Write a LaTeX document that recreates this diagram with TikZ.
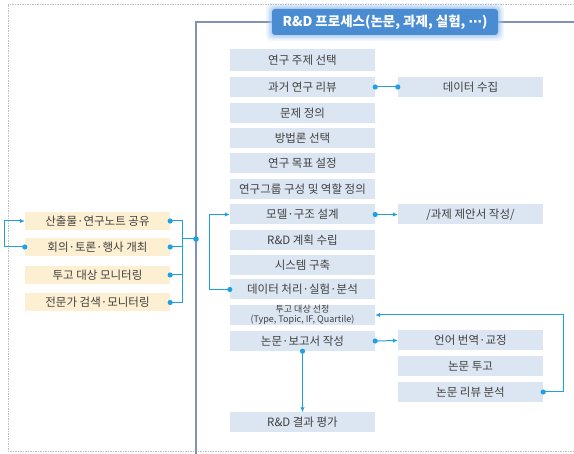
\documentclass[tikz,border=0pt]{standalone}
\usepackage{fontspec}
\setmainfont{Noto Sans CJK KR}
\newfontfamily\dvfont{DejaVu Sans}
\usetikzlibrary{arrows.meta}
\definecolor{boxblue}{HTML}{DCE6F2}
\definecolor{boxorange}{HTML}{FDEFD2}
\definecolor{txt}{HTML}{404040}
\definecolor{lnk}{HTML}{1EA0E1}
\definecolor{framec}{HTML}{8291B8}
\definecolor{titleblue}{HTML}{4A8CD2}
\definecolor{glowc}{HTML}{9CC3EE}
\begin{document}
\begin{tikzpicture}[x=1pt,y=-1pt,
  pbox/.style={fill=boxblue, minimum width=145pt, minimum height=20pt, inner sep=0pt, text=txt, font=\fontsize{11.5}{12}\selectfont, align=center},
  obox/.style={pbox, fill=boxorange, minimum height=18pt},
  conn/.style={draw=lnk, line width=1pt},
  arr/.style={conn, -{Latex[length=5pt,width=4.5pt]}},
  dotc/.style={fill=lnk},
  titlebox/.style={fill=titleblue, rounded corners=3pt, minimum width=226pt, minimum height=26pt, inner sep=0pt, text=white, font=\bfseries\fontsize{13.5}{15}\selectfont}]
\useasboundingbox (0,0) rectangle (574,454);
% outer dashed frame
\draw[black!25, dash pattern=on 1.5pt off 1pt, line width=0.6pt] (574,4) -- (8,4) -- (8,451) -- (574,451);
% blue frame
\draw[framec, line width=1.1pt] (196,454) -- (196,22) -- (574,22);
% title glow
\foreach \g/\o in {6/0.15,4.5/0.2,3/0.3,1.5/0.4}{
  \fill[glowc, opacity=\o, rounded corners=5pt] (272-\g,9-\g) rectangle (498+\g,35+\g);
}
\node[titlebox] (t) at (385,22) {R\&D 프로세스(논문, 과제, 실험, {\dvfont\bfseries ⋯})};
% main column
\node[pbox, minimum height=22pt] (p1) at (302.5,60) {연구 주제 선택};
\node[pbox] (p2) at (302.5,87) {과거 연구 리뷰};
\node[pbox] (p3) at (302.5,113) {문제 정의};
\node[pbox] (p4) at (302.5,138) {방법론 선택};
\node[pbox] (p5) at (302.5,163.5) {연구 목표 설정};
\node[pbox] (p6) at (302.5,189) {연구그룹 구성 및 역할 정의};
\node[pbox] (p7) at (302.5,214.5) {모델·구조 설계};
\node[pbox] (p8) at (302.5,240.5) {R\&D 계획 수립};
\node[pbox] (p9) at (302.5,265) {시스템 구축};
\node[pbox] (p10) at (302.5,289.5) {데이터 처리·실험·분석};
\node[pbox, font=\fontsize{9}{9.5}\selectfont] (p11) at (302.5,315) {투고 대상 선정\\(Type, Topic, IF, Quartile)};
\node[pbox] (p12) at (302.5,341) {논문·보고서 작성};
\node[pbox] (p13) at (302.5,422.5) {R\&D 결과 평가};
% right column
\node[pbox] (r1) at (470.5,87) {데이터 수집};
\node[pbox] (r2) at (470.5,214.5) {/과제 제안서 작성/};
\node[pbox] (r3) at (470.5,340.5) {언어 번역·교정};
\node[pbox] (r4) at (470.5,366) {논문 투고};
\node[pbox] (r5) at (470.5,392) {논문 리뷰 분석};
% left group
\node[obox] (l1) at (97.5,221) {산출물·연구노트 공유};
\node[obox] (l2) at (97.5,247) {회의·토론·행사 개최};
\node[obox] (l3) at (97.5,275) {투고 대상 모니터링};
\node[obox] (l4) at (97.5,302.5) {전문가 검색·모니터링};
\coordinate (fd) at (196,239);
% connectors
\draw[conn] (p2.east) -- (r1.west);
\fill[dotc] (p2.east) circle (2.6pt);
\fill[dotc] (r1.west) circle (2.6pt);
\draw[arr] (p7.east) -- (r2.west);
\fill[dotc] (p7.east) circle (2.6pt);
\draw[arr] (p12.east) -- (r3.west);
\fill[dotc] (p12.east) circle (2.6pt);
\draw[arr] (p12.south) -- (p13.north);
\fill[dotc] (p12.south) circle (2.6pt);
\draw[arr] (r5.east) -- ++(20,0) |- (p11.east);
\fill[dotc] (r5.east) circle (2.6pt);
\draw[arr] (p10.west) -- ++(-20,0) |- (p7.west);
\fill[dotc] (p10.west) circle (2.6pt);
\draw[arr] (l2.west) -- ++(-20,0) |- (l1.west);
\fill[dotc] (l2.west) circle (2.6pt);
\foreach \n in {l1,l2,l3,l4}{
  \draw[conn] (\n.east) -- ++(12,0) |- (fd);
  \fill[dotc] (\n.east) circle (2.6pt);
}
\fill[dotc] (fd) circle (2.8pt);
\end{tikzpicture}
\end{document}
